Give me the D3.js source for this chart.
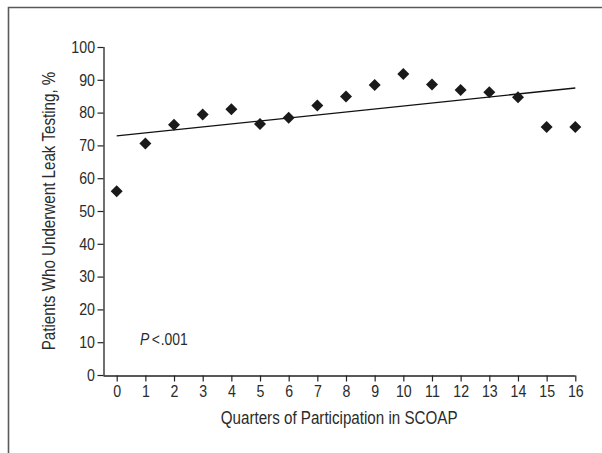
<!DOCTYPE html>
<html><head><meta charset="utf-8">
<script src="https://cdn.jsdelivr.net/npm/d3@7"></script>
<style>
html,body{margin:0;padding:0;background:#fff;}
svg text{font-family:"Liberation Sans",Arial,Helvetica,sans-serif;fill:#2b2b2b;}
</style></head>
<body>
<svg id="chart" width="602" height="453"></svg>
<script>
const quarters = [0,1,2,3,4,5,6,7,8,9,10,11,12,13,14,15,16];
const leakTesting = [56.0,70.6,76.3,79.4,81.0,76.5,78.4,82.2,84.9,88.4,91.8,88.6,86.9,86.2,84.7,75.6,75.6];
const trendX = [0,16];
const trendY = [72.9,87.5];
const yTicks = [0,10,20,30,40,50,60,70,80,90,100];
const xLabel = "Quarters of Participation in SCOAP";
const yLabel = "Patients Who Underwent Leak Testing, %";
const pLabel = ".001";

const svg = d3.select("#chart");
// frame (left + top)
svg.append("path").attr("d","M8.5,453 L8.5,7.5 L602,7.5")
  .attr("fill","none").attr("stroke","#5a5a5a").attr("stroke-width",1.6);

const x = d3.scaleLinear().domain([0,16]).range([116.7,575.3]);
const y = d3.scaleLinear().domain([0,100]).range([375,47]);

const tickScale = 0.86;
// y axis
const yAxis = d3.axisLeft(y).tickValues(yTicks).tickSize(6).tickPadding(3);
const gy = svg.append("g").attr("transform","translate(103.5,0)").call(yAxis);
// x axis
const xAxis = d3.axisBottom(x).tickValues(quarters).tickSize(6).tickPadding(4);
const gx = svg.append("g").attr("transform","translate(0,375.5)").call(xAxis);
gx.select(".domain").attr("d","M103.5,0.5H"+x(16));
gy.select(".domain").attr("d","M0.5,"+y(100)+"V"+(375.5));
[gx,gy].forEach(g=>{
  g.selectAll(".domain").attr("stroke","#222").attr("stroke-width",1.3);
  g.selectAll(".tick line").attr("stroke","#222").attr("stroke-width",1.2);
  g.selectAll(".tick text").attr("font-size",16.5).style("fill","#2b2b2b")
   .attr("font-family",'"Liberation Sans",Arial,sans-serif')
   .attr("transform",`scale(${tickScale},1)`);
});
gy.selectAll(".tick text").attr("x",-8.5/tickScale);

// trend line
svg.append("line")
  .attr("x1",x(trendX[0])).attr("y1",y(trendY[0]))
  .attr("x2",x(trendX[1])).attr("y2",y(trendY[1]))
  .attr("stroke","#111").attr("stroke-width",1.3);

// diamonds
const diamond = d3.symbol().type(d3.symbolSquare).size(72);
svg.selectAll("path.pt").data(quarters).enter().append("path")
  .attr("class","pt")
  .attr("d",diamond)
  .attr("transform",(d,i)=>`translate(${x(d)},${y(leakTesting[i])}) rotate(45)`)
  .attr("fill","#1a1a1a");

// labels
const labScale = 0.82;
svg.append("text").attr("transform",`translate(${(103+x(16))/2},424) scale(${labScale},1)`)
  .attr("text-anchor","middle").attr("font-size",18.5).text(xLabel);
svg.append("text").attr("transform",`translate(54.5,${(y(0)+y(100))/2}) rotate(-90) scale(${labScale},1)`)
  .attr("text-anchor","middle").attr("font-size",18.5).text(yLabel);
const pt = svg.append("text").attr("transform","translate(140,344.5) scale(0.82,1)").attr("font-size",17);
pt.append("tspan").attr("font-style","italic").text("P");
pt.append("tspan").attr("dx",3).text("<");
pt.append("tspan").attr("dx",1).text(pLabel);
</script>
</body></html>
